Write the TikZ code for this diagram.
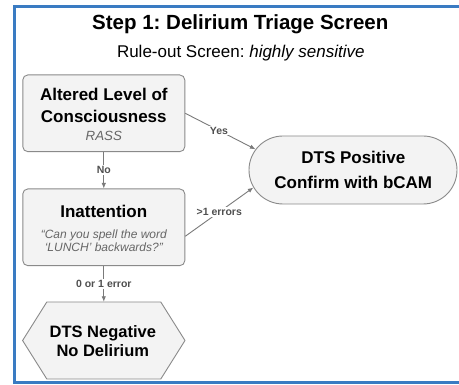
\documentclass[tikz,border=0pt]{standalone}
\usepackage{fontspec}
\setmainfont{Liberation Sans}
\frenchspacing
\usetikzlibrary{shapes.misc,arrows.meta,calc}
\definecolor{frameblue}{HTML}{3A7BC2}
\definecolor{boxfill}{HTML}{F3F3F3}
\definecolor{boxline}{HTML}{8A8A8A}
\definecolor{arrowgray}{HTML}{7A7A7A}
\definecolor{labelgray}{HTML}{505050}
\definecolor{subgray}{HTML}{666666}
\tikzset{
  box/.style={draw=boxline, fill=boxfill, line width=0.9pt, rounded corners=5pt,
    minimum width=162pt, minimum height=76.7pt, inner sep=0pt},
  stadium/.style={draw=boxline, fill=boxfill, line width=0.9pt, rounded rectangle,
    minimum width=208pt, minimum height=68pt, inner sep=0pt},
  hexbox/.style={draw=boxline, fill=boxfill, line width=0.9pt, line join=round},
  boxtitle/.style={font=\fontsize{17}{20}\selectfont\bfseries, anchor=base, inner sep=0pt},
  boxnote/.style={font=\fontsize{12}{14}\selectfont\itshape, text=subgray, anchor=base, inner sep=0pt},
  conn/.style={draw=arrowgray, line width=0.9pt, -{Latex[length=5.5pt,width=4.5pt]}},
  connlabel/.style={font=\fontsize{10.5}{12}\selectfont\bfseries, text=labelgray,
    fill=white, inner sep=1.2pt}
}
\begin{document}
\begin{tikzpicture}[x=1pt,y=-1pt]
\useasboundingbox (0,0) rectangle (459,385);
\begin{scope}
  \clip (0,0) rectangle (459,385);
  \fill[white] (0,0) rectangle (459,385);
  \draw[frameblue, line width=3pt] (14.7,6.3) rectangle (480,382.9);
\end{scope}

% titles
\node[font=\fontsize{20.5}{24}\selectfont\bfseries, anchor=base, inner sep=0pt] (title) at (240.3,30) {Step 1: Delirium Triage Screen};
\node[font=\fontsize{17}{20}\selectfont, anchor=base, inner sep=0pt] (subtitle) at (240.8,57.3) {Rule-out Screen: \textit{highly sensitive}};

% box 1
\node[box] (b1) at (103.8,113.3) {};
\node[boxtitle] (b1a) at (103.8,100.7) {Altered Level of};
\node[boxtitle] (b1b) at (103.8,122.3) {Consciousness};
\node[boxnote, font=\fontsize{13.3}{15}\selectfont\itshape] (b1c) at (103.8,140.7) {RASS};

% box 2
\node[box] (b2) at (103.8,227.3) {};
\node[boxtitle] (b2a) at (103.8,217.3) {Inattention};
\node[boxnote] (b2b) at (103.8,238.3) {“Can you spell the word};
\node[boxnote] (b2c) at (103.8,251.3) {‘LUNCH’ backwards?”};

% positive
\node[stadium] (pos) at (353,170) {};
\node[boxtitle] (posa) at (353.3,164) {DTS Positive};
\node[boxtitle] (posb) at (353.3,188.3) {Confirm with bCAM};

% negative hexagon
\coordinate (negc) at (103.8,340.5);
\draw[hexbox] ($(negc)+(-81.2,0)$) -- ($(negc)+(-57,-38.5)$) -- ($(negc)+(57,-38.5)$)
  -- ($(negc)+(81.2,0)$) -- ($(negc)+(57,38.5)$) -- ($(negc)+(-57,38.5)$) -- cycle;
\node[minimum width=162pt, minimum height=77pt, inner sep=0pt] (neg) at (negc) {};
\node[boxtitle, font=\fontsize{16.5}{19}\selectfont\bfseries] (nega) at (102.8,338) {DTS Negative};
\node[boxtitle, font=\fontsize{16.5}{19}\selectfont\bfseries] (negb) at (102.8,356.7) {No Delirium};

% connectors
\draw[conn] (b1.east) -- node[connlabel, pos=0.48] (lyes) {Yes} (pos.168);
\draw[conn] ([yshift=-9pt]b2.east) -- node[connlabel, pos=0.5] (lerr) {>1 errors} (pos.190);
\draw[conn] (b1.south) -- node[connlabel] (lno) {No} (b2.north);
\draw[conn] (b2.south) -- node[connlabel] (l01) {0 or 1 error} (neg.north);
\end{tikzpicture}
\end{document}
